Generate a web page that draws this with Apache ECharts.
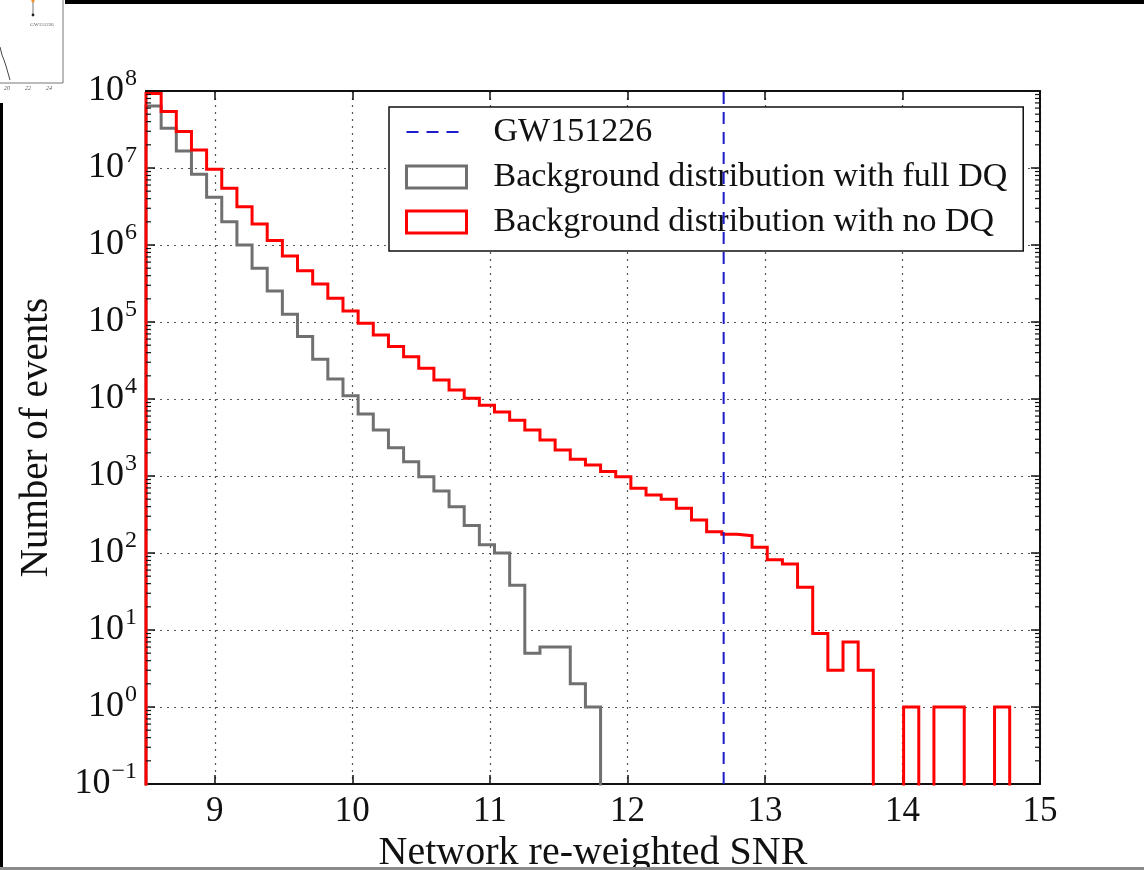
<!DOCTYPE html>
<html>
<head>
<meta charset="utf-8">
<title>Network re-weighted SNR background</title>
<script src="https://cdn.jsdelivr.net/npm/echarts@6/dist/echarts.min.js"></script>
<style>
  html, body { margin: 0; padding: 0; background: #ffffff; }
  #chart { width: 1144px; height: 870px; }
</style>
</head>
<body>
<div id="chart"></div>
<script>
// Histogram binning of the network re-weighted SNR (equal-width bins)
const snrMin = 8.5;
const snrMax = 15;
const binCount = 59;

// Events per bin: background distribution with full data-quality vetoes
const countsFullDQ = [
  6.4e7, 3.28e7, 1.66e7, 8.3e6, 4.16e6, 2.01e6, 1.0e6, 4.98e5, 2.53e5, 1.26e5,
  6.46e4, 3.28e4, 1.82e4, 1.1e4, 6400, 3960, 2330, 1530, 980, 640,
  400, 228, 128, 100, 38, 5, 6, 6, 2, 1,
  0, 0, 0, 0, 0, 0, 0, 0, 0, 0,
  0, 0, 0, 0, 0, 0, 0, 0, 0, 0,
  0, 0, 0, 0, 0, 0, 0, 0, 0
];

// Events per bin: background distribution with no data-quality vetoes
const countsNoDQ = [
  9.3e7, 5.4e7, 2.97e7, 1.71e7, 9.6e6, 5.45e6, 3.15e6, 1.87e6, 1.14e6, 7.2e5,
  4.64e5, 3.12e5, 2.03e5, 1.39e5, 9.6e4, 6.8e4, 4.8e4, 3.55e4, 2.5e4, 1.77e4,
  1.31e4, 1.02e4, 8300, 6800, 5300, 3960, 2940, 2180, 1650, 1390,
  1140, 980, 692, 566, 498, 380, 268, 189, 175, 168,
  119, 82, 72, 36, 9, 3, 7, 3, 0, 0,
  1, 0, 1, 1, 0, 0, 1, 0, 0
];

// Candidate event
const eventName = 'GW151226';
const eventSnr = 12.7;

const seriesNames = [
  eventName,
  'Background distribution with full DQ',
  'Background distribution with no DQ'
];

// Vertical axis range (decades)
const countMin = 0.1;
const countMax = 1e8;

const serif = "'Liberation Serif', 'DejaVu Serif', serif";
const ink = '#111111';

// Bin edges and step outline (histtype 'step'); empty bins fall below the axis
const binWidth = (snrMax - snrMin) / binCount;
const binEdges = Array.from({ length: binCount + 1 }, (_, i) => snrMin + i * binWidth);
const belowAxis = countMin / 100;

function stepOutline(counts) {
  const pts = [[binEdges[0], belowAxis]];
  counts.forEach((c, i) => {
    const v = c > 0 ? c : belowAxis;
    pts.push([binEdges[i], v], [binEdges[i + 1], v]);
  });
  pts.push([binEdges[binCount], belowAxis]);
  return pts;
}

// Log minor tick positions (2..9 x 10^n) inside the axis range
const minorTickValues = [];
for (let e = Math.round(Math.log10(countMin)); e < Math.round(Math.log10(countMax)); e++) {
  for (let k = 2; k <= 9; k++) minorTickValues.push([snrMin, k * Math.pow(10, e)]);
}

function powerLabel(v) {
  const e = Math.round(Math.log10(v));
  const exp = e < 0 ? '\u2212' + (-e) : String(e);
  return '{b|10}{s|' + exp + '}';
}

const dottedGrid = { color: '#555555', width: 1.2, type: [2, 5] };
const frameLine = { color: ink, width: 2 };

const chart = echarts.init(document.getElementById('chart'), null, { renderer: 'canvas' });

chart.setOption({
  animation: false,
  backgroundColor: '#ffffff',
  grid: { left: 146, right: 104, top: 91, bottom: 86, containLabel: false, outerBoundsMode: 'none' },
  legend: {
    left: 389,
    top: 107,
    orient: 'vertical',
    selectedMode: false,
    backgroundColor: '#ffffff',
    borderColor: ink,
    borderWidth: 1.5,
    borderRadius: 0,
    padding: [7, 16, 11, 16],
    itemGap: 9,
    itemWidth: 60,
    itemHeight: 22,
    textStyle: { fontFamily: serif, fontSize: 34, lineHeight: 36, color: ink, padding: [0, 0, 0, 22] },
    data: [
      { name: seriesNames[0], itemStyle: { color: 'rgba(0,0,0,0)', borderWidth: 0, opacity: 0 } },
      { name: seriesNames[1], icon: 'rect', itemStyle: { color: 'rgba(0,0,0,0)', borderColor: '#707070', borderWidth: 3 } },
      { name: seriesNames[2], icon: 'rect', itemStyle: { color: 'rgba(0,0,0,0)', borderColor: '#ff0000', borderWidth: 3 } }
    ]
  },
  xAxis: [
    {
      type: 'value',
      min: snrMin,
      max: snrMax,
      position: 'bottom',
      axisLine: { show: true, onZero: false, lineStyle: frameLine },
      axisTick: { show: true, inside: true, length: 9, lineStyle: { color: ink, width: 1.5 } },
      axisLabel: {
        formatter: v => (Number.isInteger(v) ? String(v) : ''),
        fontFamily: serif, fontSize: 35, color: ink, margin: 10
      },
      splitLine: { show: true, lineStyle: dottedGrid },
      name: 'Network re-weighted SNR',
      nameLocation: 'middle',
      nameGap: 46,
      nameTextStyle: { fontFamily: serif, fontSize: 40, color: ink }
    },
    {
      type: 'value',
      min: snrMin,
      max: snrMax,
      position: 'top',
      axisLine: { show: true, onZero: false, lineStyle: frameLine },
      axisTick: { show: true, inside: true, length: 9, lineStyle: { color: ink, width: 1.5 } },
      axisLabel: { show: false },
      splitLine: { show: false }
    }
  ],
  yAxis: [
    {
      type: 'log',
      logBase: 10,
      min: countMin,
      max: countMax,
      splitNumber: 9,
      position: 'left',
      axisLine: { show: true, onZero: false, lineStyle: frameLine },
      axisTick: { show: true, inside: true, length: 9, lineStyle: { color: ink, width: 1.5 } },
      axisLabel: {
        formatter: powerLabel,
        margin: 9,
        rich: {
          b: { fontFamily: serif, fontSize: 36, lineHeight: 36, color: ink, verticalAlign: 'middle' },
          s: { fontFamily: serif, fontSize: 24, lineHeight: 24, color: ink, verticalAlign: 'middle', padding: [0, 0, 24, 1] }
        }
      },
      splitLine: { show: true, lineStyle: dottedGrid },
      name: 'Number of events',
      nameLocation: 'middle',
      nameRotate: 90,
      nameGap: 90,
      nameTextStyle: { fontFamily: serif, fontSize: 39, color: ink }
    },
    {
      type: 'log',
      logBase: 10,
      min: countMin,
      max: countMax,
      splitNumber: 9,
      position: 'right',
      axisLine: { show: true, onZero: false, lineStyle: frameLine },
      axisTick: { show: true, inside: true, length: 9, lineStyle: { color: ink, width: 1.5 } },
      axisLabel: { show: false },
      splitLine: { show: false }
    }
  ],
  series: [
    {
      name: seriesNames[1],
      type: 'line',
      xAxisIndex: 0,
      yAxisIndex: 0,
      data: stepOutline(countsFullDQ),
      symbol: 'none',
      clip: true,
      color: '#707070',
      lineStyle: { color: '#707070', width: 3, join: 'miter' },
      z: 3
    },
    {
      name: seriesNames[2],
      type: 'line',
      xAxisIndex: 0,
      yAxisIndex: 0,
      data: stepOutline(countsNoDQ),
      symbol: 'none',
      clip: true,
      color: '#ff0000',
      lineStyle: { color: '#ff0000', width: 3, join: 'miter' },
      z: 4
    },
    {
      name: seriesNames[0],
      type: 'line',
      xAxisIndex: 0,
      yAxisIndex: 0,
      data: [[eventSnr, countMin], [eventSnr, countMax]],
      symbol: 'none',
      clip: true,
      color: '#1c1cc8',
      lineStyle: { color: '#1c1cc8', width: 2, type: [12, 8] },
      z: 5
    },
    {
      // minor log ticks on the left and right spines
      type: 'custom',
      xAxisIndex: 0,
      yAxisIndex: 0,
      silent: true,
      data: minorTickValues,
      encode: { x: 0, y: 1 },
      z: 6,
      renderItem(params, api) {
        const left = api.coord([snrMin, api.value(1)]);
        const right = api.coord([snrMax, api.value(1)]);
        const style = { stroke: ink, lineWidth: 1.2 };
        return {
          type: 'group',
          children: [
            { type: 'line', shape: { x1: left[0], y1: left[1], x2: left[0] + 5, y2: left[1] }, style },
            { type: 'line', shape: { x1: right[0] - 5, y1: right[1], x2: right[0], y2: right[1] }, style }
          ]
        };
      }
    }
  ],
  graphic: [
    // page frame pieces
    { type: 'rect', shape: { x: 65, y: 0, width: 1079, height: 4 }, style: { fill: '#000000' }, silent: true },
    { type: 'rect', shape: { x: 0, y: 103, width: 3, height: 767 }, style: { fill: '#000000' }, silent: true },
    { type: 'rect', shape: { x: 0, y: 867, width: 1144, height: 3 }, style: { fill: '#8a8a8a' }, silent: true, z: 100 },
    // small inset panel in the corner
    { type: 'polyline', shape: { points: [[0, 83], [63, 83], [63, 0]] }, style: { stroke: '#777777', fill: null, lineWidth: 1 }, silent: true },
    { type: 'polyline', shape: { points: [[0, 47], [2, 55], [4, 60], [6, 66], [8, 73], [10, 80]] }, style: { stroke: '#444444', fill: null, lineWidth: 1 }, silent: true },
    { type: 'line', shape: { x1: 33, y1: 2, x2: 33, y2: 14 }, style: { stroke: '#777777', lineWidth: 1 }, silent: true },
    { type: 'circle', shape: { cx: 33, cy: 1, r: 1.6 }, style: { fill: '#f09030' }, silent: true },
    { type: 'circle', shape: { cx: 33, cy: 15, r: 1.4 }, style: { fill: '#222222' }, silent: true },
    { type: 'text', style: { text: eventName, x: 42, y: 25, fontSize: 5, fontFamily: serif, fill: '#555555', align: 'center', verticalAlign: 'middle' }, silent: true },
    { type: 'text', style: { text: '20', x: 7, y: 88, fontSize: 6, fontFamily: serif, fontStyle: 'italic', fill: '#555555', align: 'center', verticalAlign: 'middle' }, silent: true },
    { type: 'text', style: { text: '22', x: 28, y: 88, fontSize: 6, fontFamily: serif, fontStyle: 'italic', fill: '#555555', align: 'center', verticalAlign: 'middle' }, silent: true },
    { type: 'text', style: { text: '24', x: 49, y: 88, fontSize: 6, fontFamily: serif, fontStyle: 'italic', fill: '#555555', align: 'center', verticalAlign: 'middle' }, silent: true }
  ]
});
</script>
</body>
</html>
